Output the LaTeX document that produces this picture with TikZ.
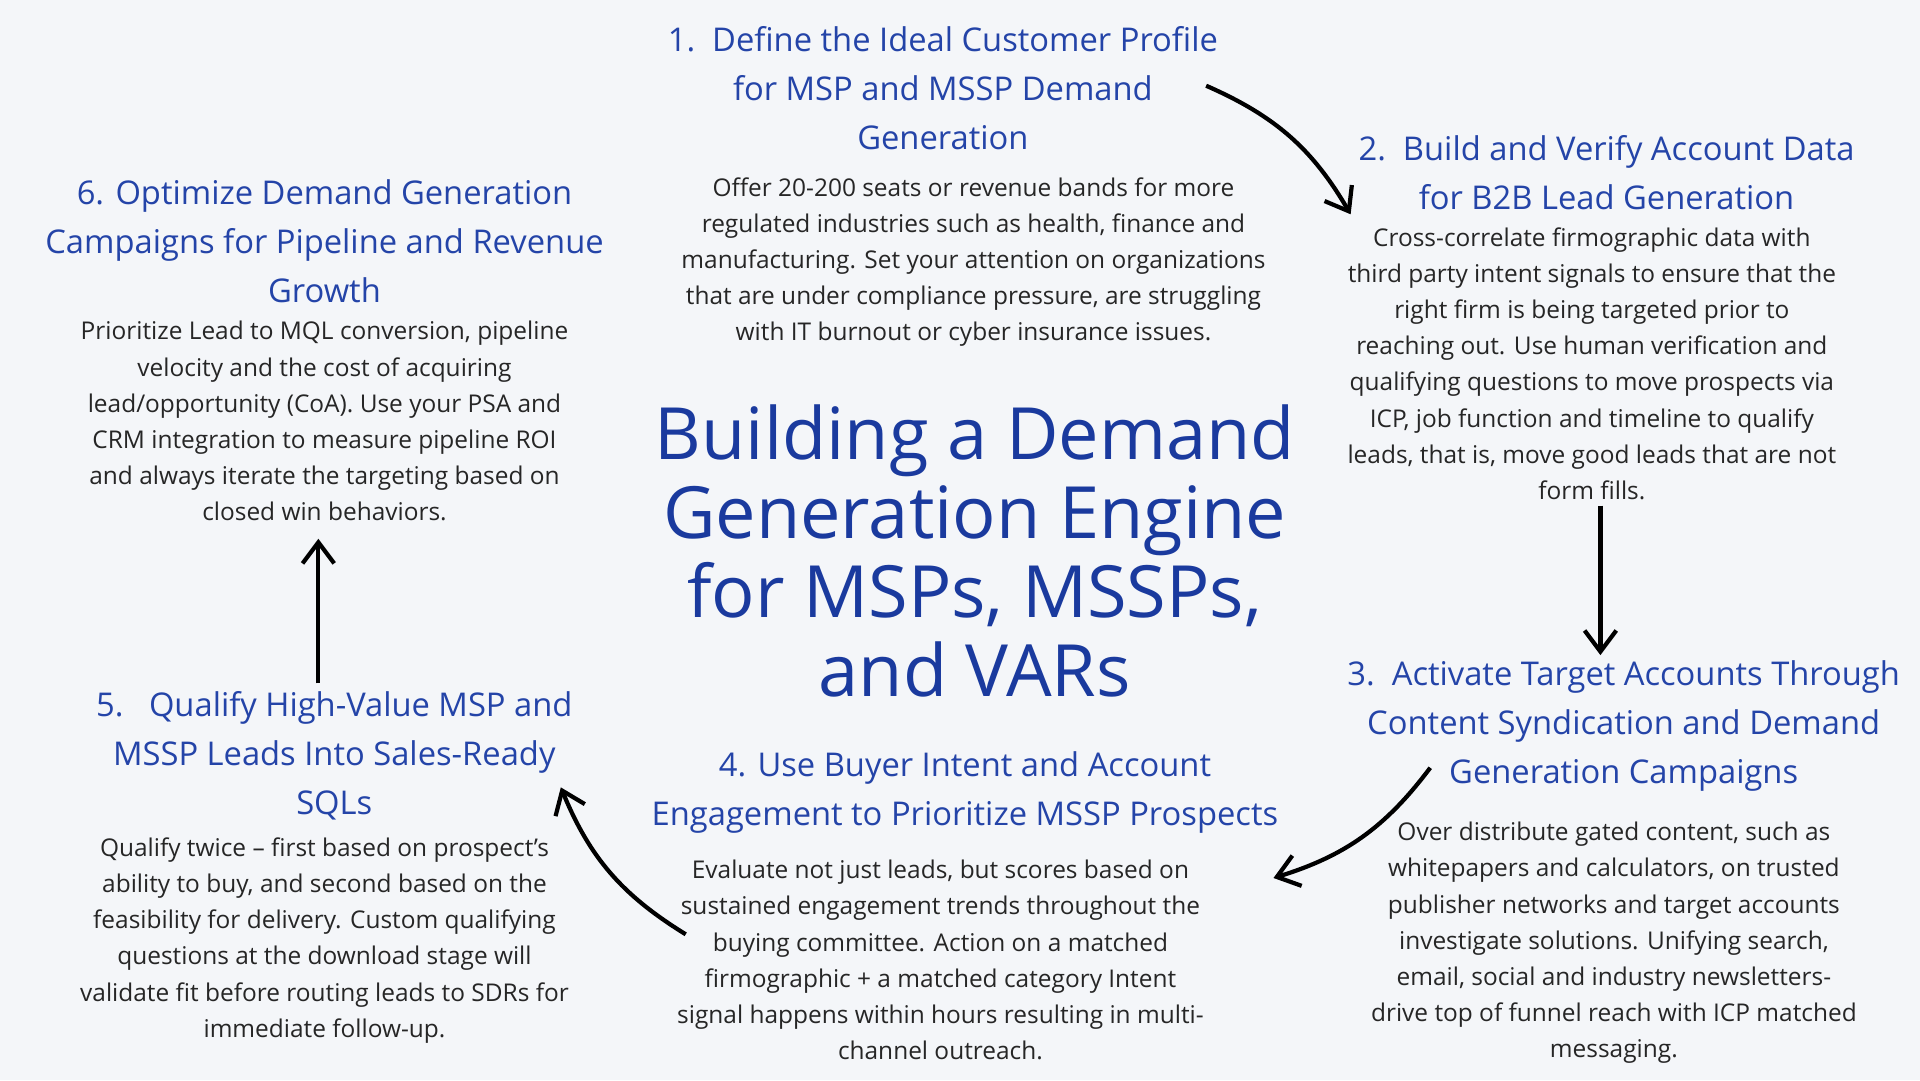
\documentclass[tikz,border=0pt]{standalone}
\usepackage{fontspec}
\setmainfont{Open Sans}
\usetikzlibrary{arrows.meta}
\definecolor{bgcol}{HTML}{F4F6F9}
\definecolor{headblue}{HTML}{2444A8}
\definecolor{titleblue}{HTML}{1A3A9E}
\newcommand\pxu{0.012245cm}
\begin{document}
\begin{tikzpicture}[x=\pxu,y=-\pxu,
head/.style={align=center,inner sep=0pt,text=headblue,font=\fontsize{9.3}{13.9}\selectfont},
body/.style={align=center,inner sep=0pt,text=black!85,font=\fontsize{6.95}{10.3}\selectfont},
flow/.style={very thick,-{Straight Barb[length=6pt,width=9pt]}}
]
\fill[bgcol] (0,0) rectangle (1568,882);
\useasboundingbox (0,0) rectangle (1568,882);
% title
\node[align=center,inner sep=0pt,text=titleblue,font=\fontsize{20.5}{22.4}\selectfont] (title) at (796,450)
{Building a Demand\\Generation Engine\\for MSPs, MSSPs,\\and VARs};
% step 1
\node[head] (h1) at (770,72) {1.\ \ Define the Ideal Customer Profile\\for MSP and MSSP Demand\\Generation};
\node[body] (b1) at (795,214) {Offer 20-200 seats or revenue bands for more\\regulated industries such as health, finance and\\manufacturing. Set your attention on organizations\\that are under compliance pressure, are struggling\\with IT burnout or cyber insurance issues.};
% step 2
\node[head] (h2) at (1312,141) {2.\ \ Build and Verify Account Data\\for B2B Lead Generation};
\node[body] (b2) at (1300,297) {Cross-correlate firmographic data with\\third party intent signals to ensure that the\\right firm is being targeted prior to\\reaching out. Use human verification and\\qualifying questions to move prospects via\\ICP, job function and timeline to qualify\\leads, that is, move good leads that are not\\form fills.};
% step 3
\node[head] (h3) at (1326,593) {3.\ \ Activate Target Accounts Through\\Content Syndication and Demand\\Generation Campaigns};
\node[body] (b3) at (1318,770) {Over distribute gated content, such as\\whitepapers and calculators, on trusted\\publisher networks and target accounts\\investigate solutions. Unifying search,\\email, social and industry newsletters-\\drive top of funnel reach with ICP matched\\messaging.};
% step 4
\node[head] (h4) at (788,647) {4. Use Buyer Intent and Account\\Engagement to Prioritize MSSP Prospects};
\node[body] (b4) at (768,784) {Evaluate not just leads, but scores based on\\sustained engagement trends throughout the\\buying committee. Action on a matched\\firmographic + a matched category Intent\\signal happens within hours resulting in multi-\\channel outreach.};
% step 5
\node[head] (h5) at (273,617) {5.\ \ \ Qualify High-Value MSP and\\MSSP Leads Into Sales-Ready\\SQLs};
\node[body] (b5) at (265,768) {Qualify twice -- first based on prospect's\\ability to buy, and second based on the\\feasibility for delivery. Custom qualifying\\questions at the download stage will\\validate fit before routing leads to SDRs for\\immediate follow-up.};
% step 6
\node[head] (h6) at (265,197) {6. Optimize Demand Generation\\Campaigns for Pipeline and Revenue\\Growth};
\node[body] (b6) at (265,344) {Prioritize Lead to MQL conversion, pipeline\\velocity and the cost of acquiring\\lead/opportunity (CoA). Use your PSA and\\CRM integration to measure pipeline ROI\\and always iterate the targeting based on\\closed win behaviors.};
% arrow ends
\coordinate (a1s) at (985,70);   \coordinate (a1e) at (1103,175);
\coordinate (a2s) at (1307,413); \coordinate (a2e) at (1307,535);
\coordinate (a3s) at (1168,627); \coordinate (a3e) at (1040,717);
\coordinate (a4s) at (560,763);  \coordinate (a4e) at (458,643);
\coordinate (a5s) at (260,558);  \coordinate (a5e) at (260,440);
\draw[flow] (a1s) to[bend left=18] (a1e);
\draw[flow] (a2s) -- (a2e);
\draw[flow] (a3s) to[bend left=18] (a3e);
\draw[flow] (a4s) to[bend left=18] (a4e);
\draw[flow] (a5s) -- (a5e);
\end{tikzpicture}
\end{document}
